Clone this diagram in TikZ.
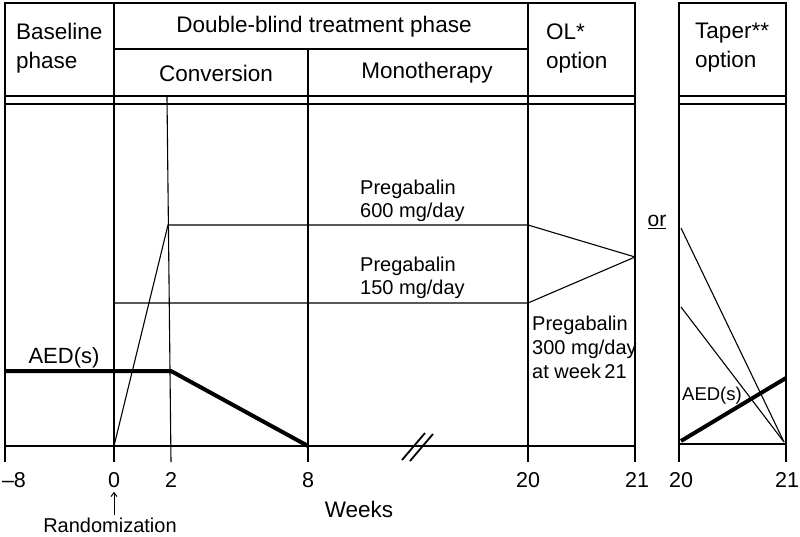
\documentclass[tikz,border=0pt]{standalone}
\usepackage{fontspec}
\setmainfont{Liberation Sans}
\usetikzlibrary{arrows.meta}
\begin{document}
\begin{tikzpicture}[x=1pt,y=-1pt,
  frame/.style={line width=2.6pt},
  mid/.style={line width=1.8pt},
  thinline/.style={line width=1.1pt},
  aedline/.style={line width=4pt},
  hdr/.style={font=\fontsize{22.5}{29}\selectfont, inner sep=0pt},
  lbl/.style={font=\fontsize{20}{23}\selectfont, inner sep=0pt, align=left},
  ticklbl/.style={font=\fontsize{21.5}{24}\selectfont, inner sep=0pt}]
\useasboundingbox (0,0) rectangle (800,536);

% ---- coordinates ----
\coordinate (m8t) at (5,3);   \coordinate (m8b) at (5,462);
\coordinate (w0t) at (114,3); \coordinate (w0b) at (114,462);
\coordinate (w8t) at (308,49); \coordinate (w8b) at (308,462);
\coordinate (w20t) at (528,3); \coordinate (w20b) at (528,462);
\coordinate (w21t) at (635,3); \coordinate (w21b) at (635,462);
\coordinate (w2t) at (167,97); \coordinate (w2b) at (171,462);
\coordinate (tl) at (679,3); \coordinate (tlb) at (679,462);
\coordinate (tr) at (786,3); \coordinate (trb) at (786,462);

% ---- main frame ----
\draw[frame] (m8b) -- (m8t) -- (w21t) -- (w21b);
\draw[frame] (w0t) -- (w0b);
\draw[frame] (w8t) -- (w8b);
\draw[frame] (w20t) -- (w20b);
\draw[mid] (114,49) coordinate (dbl) -- (528,49) coordinate (dbr);
\draw[mid] (5,96) coordinate (d1l) -- (635,96) coordinate (d1r);
\draw[mid] (5,104) coordinate (d2l) -- (635,104) coordinate (d2r);
\draw[mid] (5,446) coordinate (bl) -- (635,446) coordinate (br);
\draw[thinline] (w2t) -- (w2b);

% ---- taper frame ----
\draw[frame] (tlb) -- (tl) -- (tr) -- (trb);
\draw[mid] (679,96) coordinate (t1l) -- (786,96) coordinate (t1r);
\draw[mid] (679,104) coordinate (t2l) -- (786,104) coordinate (t2r);
\draw[mid] (679,444) coordinate (tbl) -- (786,444) coordinate (tbr);

% ---- headers ----
\node[hdr, align=left, anchor=west] (base) at (16,48) {Baseline\\phase};
\node[hdr] (dbt) at (324,27) {Double-blind treatment phase};
\node[hdr] (conv) at (216,73) {Conversion};
\node[hdr] (mono) at (427,73) {Monotherapy};
\node[hdr, align=left, anchor=west] (ol) at (546,48) {OL*\\option};
\node[hdr, align=left, anchor=west] (tap) at (695,48) {Taper**\\option};

% ---- pregabalin lines ----
\coordinate (r0) at (114,446);
\coordinate (p600a) at (168,225); \coordinate (p600b) at (528,225);
\coordinate (p150a) at (114,303); \coordinate (p150b) at (528,303);
\coordinate (pconv) at (635,257);
\draw[thinline] (r0) -- (p600a) -- (p600b) -- (pconv);
\draw[thinline] (p150a) -- (p150b) -- (pconv);

\node[lbl, anchor=west] (l600) at (360,201) {Pregabalin\\600 mg/day};
\node[lbl, anchor=west] (l150) at (360,278) {Pregabalin\\150 mg/day};
\node[lbl, anchor=west, font=\fontsize{20}{24}\selectfont] (l300) at (532,347) {Pregabalin\\300 mg/day\\at week\,21};

% ---- AED main ----
\coordinate (a0) at (5,371); \coordinate (a2) at (171,371); \coordinate (a8) at (308,446);
\draw[aedline] (a0) -- (a2) -- (a8);
\node[font=\fontsize{22}{24}\selectfont, inner sep=0pt] (aedm) at (64,358) {AED(s)};

% ---- taper lines ----
\coordinate (ta) at (681,228); \coordinate (tb) at (681,307); \coordinate (tend) at (784,442);
\draw[thinline] (ta) -- (tend);
\draw[thinline] (tb) -- (tend);
\coordinate (ts) at (681,441); \coordinate (te) at (786,378);
\draw[aedline] (ts) -- (te);
\node[font=\fontsize{18.5}{20}\selectfont, inner sep=0pt, anchor=west] (aedt) at (682,396) {AED(s)};

\node[font=\fontsize{21}{22}\selectfont, inner sep=0pt] (or) at (657,222) {\underline{or}};

% ---- break symbol ----
\coordinate (bk1a) at (402,460); \coordinate (bk1b) at (425,433);
\coordinate (bk2a) at (410,461); \coordinate (bk2b) at (433,434);
\draw[mid] (bk1a) -- (bk1b);
\draw[mid] (bk2a) -- (bk2b);

% ---- tick labels ----
\node[ticklbl] (tm8) at (14,480) {\textendash 8};
\node[ticklbl] (t0) at (114,480) {0};
\node[ticklbl] (t2) at (171,480) {2};
\node[ticklbl] (t8) at (308,480) {8};
\node[ticklbl] (t20) at (528,480) {20};
\node[ticklbl] (t21) at (637,480) {21};
\node[ticklbl] (tt20) at (681,480) {20};
\node[ticklbl] (tt21) at (787,480) {21};

\node[font=\fontsize{20}{22}\selectfont, inner sep=0pt] (rand) at (110,525) {Randomization};
\draw[line width=1pt, -{Straight Barb[length=4pt,width=6pt]}, shorten <=2pt, shorten >=4pt] (rand.north -| t0) -- (t0.south);
\node[font=\fontsize{22.5}{24}\selectfont, inner sep=0pt] (weeks) at (359,509) {Weeks};
\end{tikzpicture}
\end{document}
